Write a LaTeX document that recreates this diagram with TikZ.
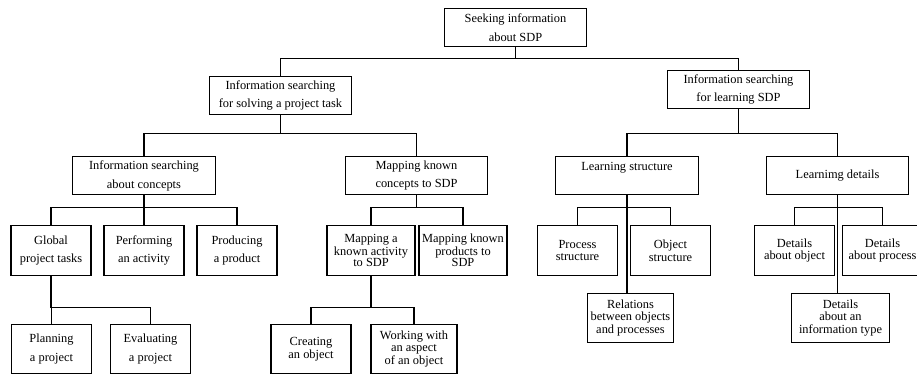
\documentclass[tikz,border=0pt]{standalone}
\usepackage{fontspec}
\setmainfont{Liberation Serif}
\begin{document}
\begin{tikzpicture}[
x=0.75pt,
y=-0.75pt,
every node/.style={
    draw,
    rectangle,
    inner sep=0pt,
    align=center,
    font=\fontsize{9.3}{14.2}\selectfont
},
wide/.style={minimum width=107pt, minimum height=28pt},
small/.style={minimum width=60pt, minimum height=37pt},
tight/.style={font=\fontsize{9.3}{9.6}\selectfont},
tighter/.style={font=\fontsize{9.3}{8.3}\selectfont},
line width=0.8pt
]
\useasboundingbox (0,0) rectangle (917,375);

%---------------- Top ----------------
\node[wide] (root) at (515.5,27.5) {Seeking information\\about SDP};

\node[wide] (solve) at (280.5,95.5) {Information searching\\for solving a project task};
\node[wide] (learn) at (738.5,89.5) {Information searching\\for learning SDP};

\draw (root.south) -- ++(0,12) -| (solve.north);
\draw (root.south) -- ++(0,12) -| (learn.north);

%---------------- Project task ----------------
\node[wide] (concepts) at (144,175.5) {Information searching\\about concepts};
\node[wide] (mapconc) at (416.5,175.5) {Mapping known\\concepts to SDP};

\draw (solve.south) -- ++(0,19) -| (concepts.north);
\draw (solve.south) -- ++(0,19) -| (mapconc.north);

\node[small] (global) at (51,250.5) {Global\\project tasks};
\node[small] (perform) at (144,250.5) {Performing\\an activity};
\node[small] (produce) at (237,250.5) {Producing\\a product};

\draw (concepts.south) -- ++(0,13) -| (global.north);
\draw (concepts.south) -- (perform.north);
\draw (concepts.south) -- ++(0,13) -| (produce.north);

\node[small] (plan) at (51.5,349) {Planning\\a project};
\node[small] (eval) at (150.5,349) {Evaluating\\a project};

\draw (global.south) -- ++(0,32) -| (plan.north);
\draw (global.south) -- ++(0,32) -| (eval.north);

\node[small,tighter,minimum width=66pt] (mapact) at (371,250.5) {Mapping a\\known activity\\to SDP};
\node[small,tighter,minimum width=66pt] (mapprod) at (463,250.5) {Mapping known\\products to\\SDP};

\draw (mapconc.south) -- ++(0,13) -| (mapact.north);
\draw (mapconc.south) -- ++(0,13) -| (mapprod.north);

\node[small,tight] (create) at (311,349) {Creating\\an object};
\node[small,tight,minimum width=64.5pt] (work) at (414,349) {Working with\\an aspect\\of an object};

\draw (mapact.south) -- ++(0,32) -| (create.north);
\draw (mapact.south) -- ++(0,32) -| (work.north);

%---------------- Learning SDP ----------------
\node[wide] (lstruct) at (627,175.5) {Learning structure\\\mbox{}};
\node[wide] (ldetail) at (837.5,175.5) {Learnimg details};

\draw (learn.south) -- ++(0,25) -| (lstruct.north);
\draw (learn.south) -- ++(0,25) -| (ldetail.north);

\node[small,tight] (pstruct) at (577.5,250.5) {Process\\structure};
\node[small,tight] (ostruct) at (670.5,250.5) {Object\\structure};
\node[small,tight,minimum width=65pt] (rel) at (630.5,318) {Relations\\between objects\\and processes};

\draw (lstruct.south) -- ++(0,13) -| (pstruct.north);
\draw (lstruct.south) -- ++(0,13) -| (ostruct.north);
\draw (lstruct.south) -- (lstruct.south |- rel.north);

\node[small,tight] (dobj) at (794.5,250.5) {Details\\about object};
\node[small,tight] (dproc) at (882.5,250.5) {Details\\about process};
\node[small,tight,minimum width=74pt] (dinfo) at (840.5,318) {Details\\about an\\information type};

\draw (ldetail.south) -- ++(0,13) -| (dobj.north);
\draw (ldetail.south) -- ++(0,13) -| (dproc.north);
\draw (ldetail.south) -- (ldetail.south |- dinfo.north);

\end{tikzpicture}
\end{document}
